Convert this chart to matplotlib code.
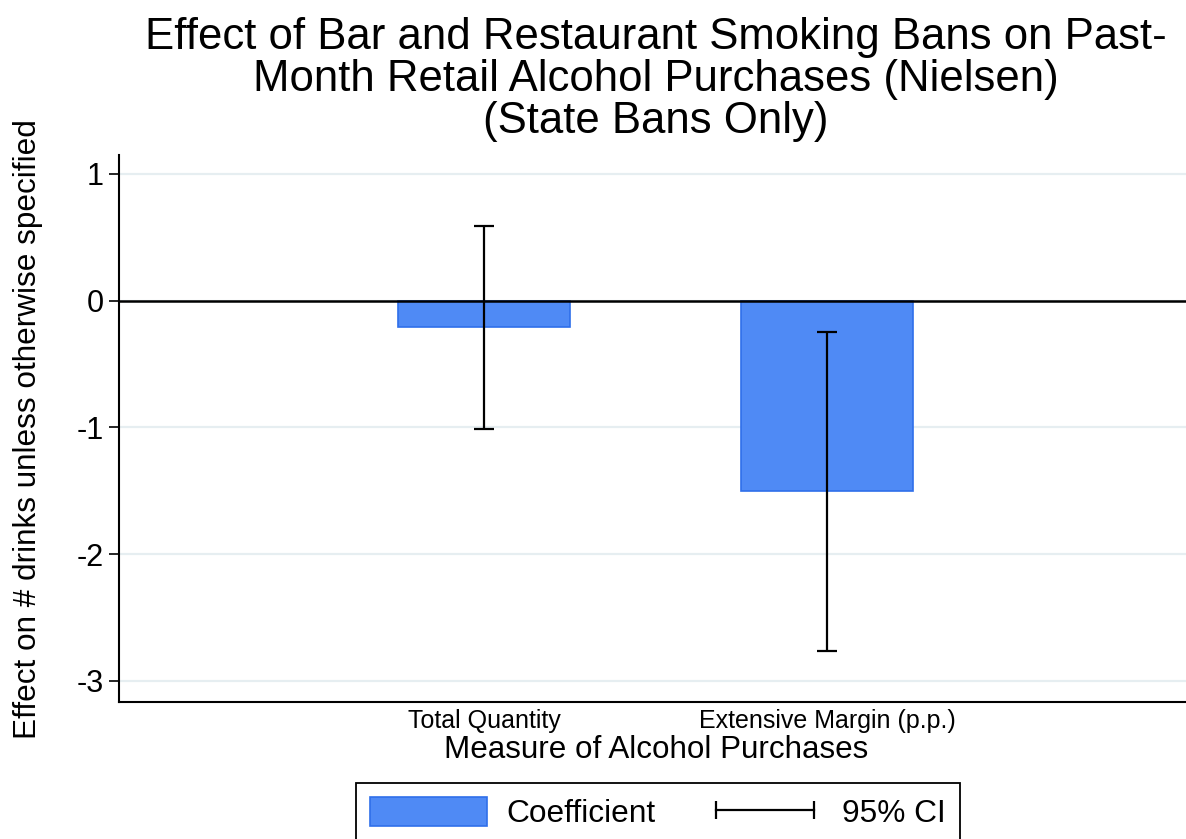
import matplotlib
matplotlib.use("Agg")
import matplotlib.pyplot as plt
from matplotlib.patches import Patch
from matplotlib.lines import Line2D

plt.rcParams['font.family'] = ['Liberation Sans', 'DejaVu Sans']

# regression coefficients and 95% confidence bounds
measures = ["Total Quantity", "Extensive Margin (p.p.)"]
coef = [-0.21, -1.50]
ci_low = [-1.01, -2.76]
ci_high = [0.59, -0.25]
yticks = [1, 0, -1, -2, -3]

BAR_COLOR = "#4f8af5"
BAR_EDGE = "#2f6fea"
GRID_COLOR = "#e6eef1"

fig = plt.figure(figsize=(11.86, 8.39), dpi=100)
ax = fig.add_axes([0.1003, 0.1633, 0.8997, 0.652])

xpos = [1, 2]
ax.bar(xpos, coef, width=0.5, color=BAR_COLOR, edgecolor=BAR_EDGE,
       linewidth=1.2, zorder=2)

err_lo = [c - lo for c, lo in zip(coef, ci_low)]
err_hi = [hi - c for c, hi in zip(coef, ci_high)]
ax.errorbar(xpos, coef, yerr=[err_lo, err_hi], fmt="none", ecolor="black",
            elinewidth=1.6, capsize=7, capthick=1.6, zorder=3)

ax.axhline(0, color="black", linewidth=1.8, zorder=2.5)

ax.set_xlim(-0.064, 3.047)
ax.set_ylim(-3.166, 1.15)

ax.set_yticks(yticks)
ax.set_yticklabels([str(t) for t in yticks], fontsize=22)
ax.yaxis.grid(True, color=GRID_COLOR, linewidth=1.6, zorder=0)
ax.set_axisbelow(True)
ax.tick_params(axis="y", length=7, width=1.2, pad=4)

ax.set_xticks(xpos)
ax.set_xticklabels(measures, fontsize=18)
ax.tick_params(axis="x", length=0, pad=5)

for side in ("top", "right"):
    ax.spines[side].set_visible(False)
for side in ("left", "bottom"):
    ax.spines[side].set_linewidth(1.5)

fig.text(0.553, 0.980, "Effect of Bar and Restaurant Smoking Bans on Past-\n"
         "Month Retail Alcohol Purchases (Nielsen)\n(State Bans Only)",
         ha="center", va="top", fontsize=31.5, linespacing=1.04)

fig.text(0.0235, 0.4885, "Effect on # drinks unless otherwise specified",
         rotation=90, ha="center", va="center", fontsize=22.7)
fig.text(0.553, 0.1065, "Measure of Alcohol Purchases",
         ha="center", va="center", fontsize=22.6)

handles = [
    Patch(facecolor=BAR_COLOR, edgecolor=BAR_EDGE, linewidth=1.2),
    Line2D([0], [0], color="black", linewidth=1.6, marker="|",
           markersize=13, markeredgewidth=1.6),
]
leg = fig.legend(handles, ["Coefficient", "95% CI"], loc="upper center",
                 bbox_to_anchor=(0.555, 0.0667), ncol=2, fontsize=22.8,
                 numpoints=2, handlelength=3.7, handleheight=1.0,
                 handletextpad=0.6, columnspacing=1.6, borderaxespad=0,
                 borderpad=0.45, fancybox=False, framealpha=1)
leg.get_frame().set_edgecolor("black")
leg.get_frame().set_linewidth(1.3)

fig.savefig("out.png", dpi=100)
